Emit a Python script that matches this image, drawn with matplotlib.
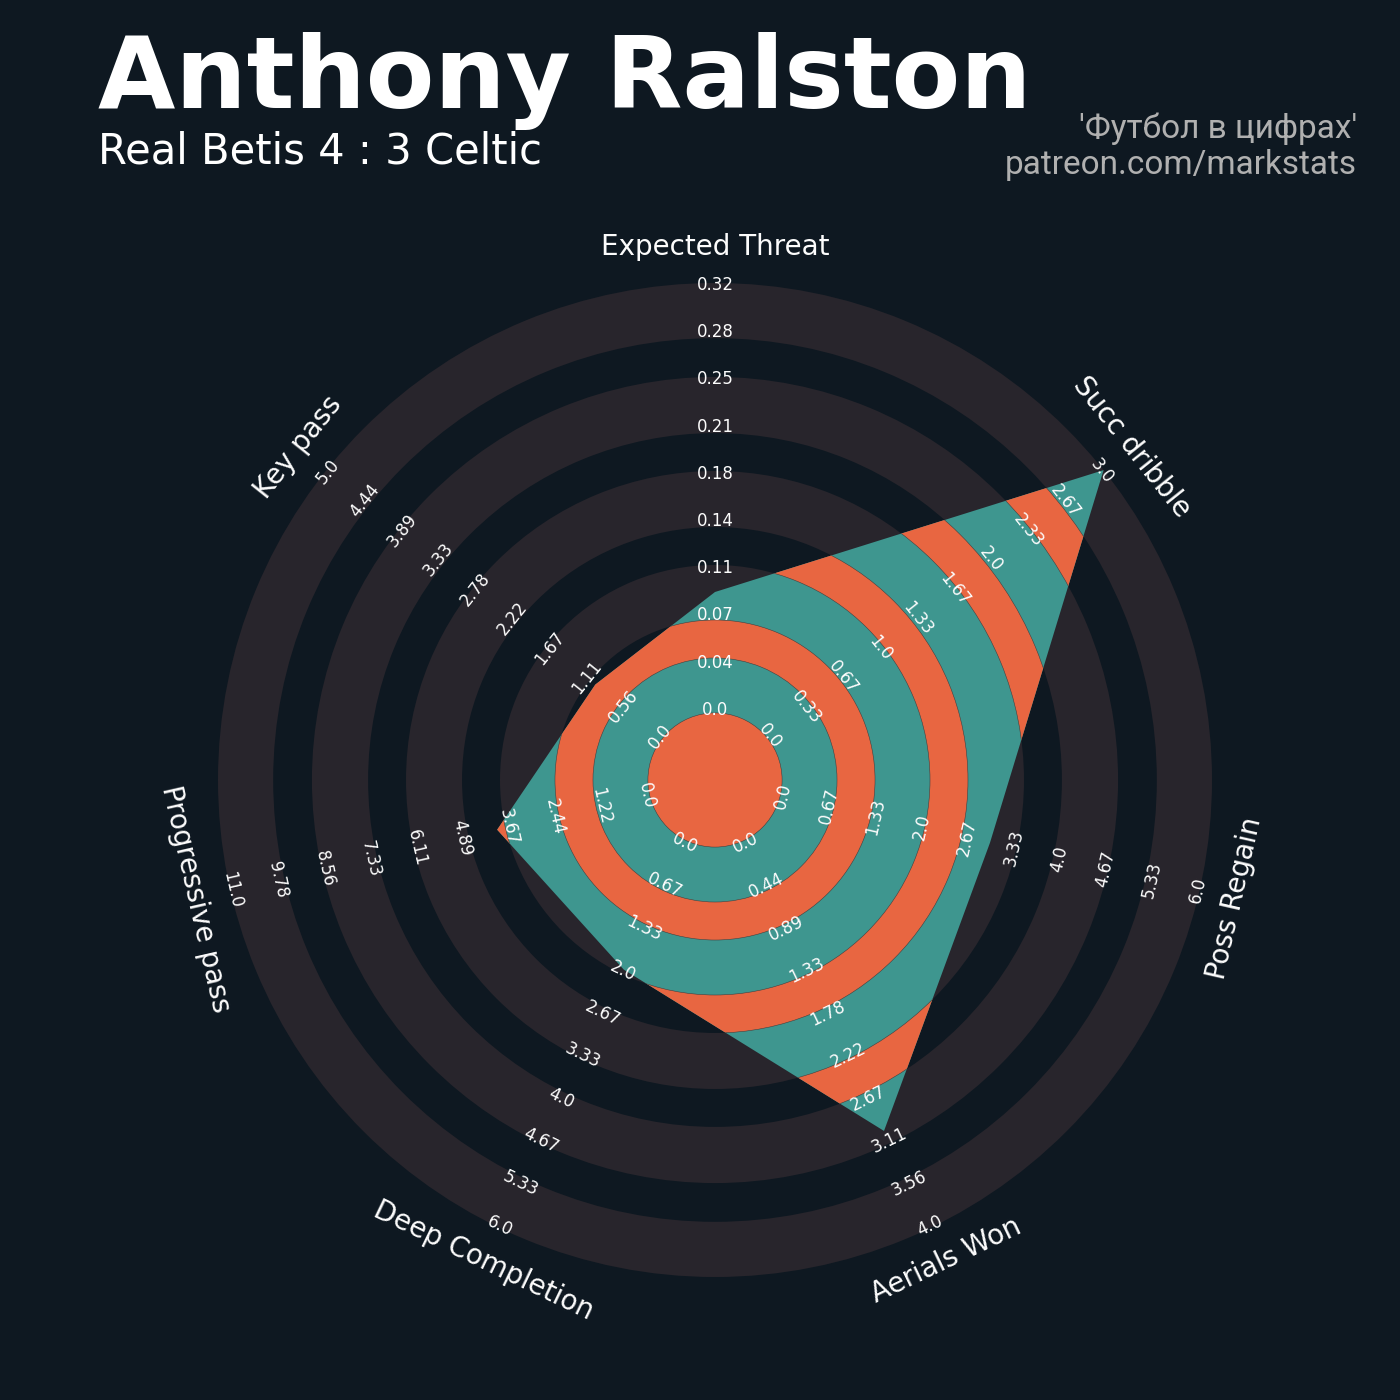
import matplotlib.pyplot as plt
from matplotlib.patches import Polygon, Wedge, Circle
import numpy as np

# dados do radar
parametros = ['Expected Threat', 'Succ dribble', 'Poss Regain', 'Aerials Won',
              'Deep Completion', 'Progressive pass', 'Key pass']
minimos = [0.0, 0.0, 0.0, 0.0, 0.0, 0.0, 0.0]
maximos = [0.32, 3.0, 6.0, 4.0, 6.0, 11.0, 5.0]
valores = [0.09, 3.0, 3.0, 3.0, 2.0, 4.0, 1.0]

titulo = 'Anthony Ralston'
subtitulo = 'Real Betis 4 : 3 Celtic'
credito = ["'Футбол в цифрах'", 'patreon.com/markstats']

COR_FUNDO = '#0e1821'
COR_ANEL = '#28252c'
COR_RADAR = '#3e968f'
COR_ANEL_RADAR = '#e86641'

# geometria (raio externo = 1)
CENTRO = 0.135
aneis_int = [0.135, 0.322, 0.509, 0.698, 0.889]
aneis_ext = [0.2455, 0.4326, 0.6217, 0.811, 1.0]
N_ROTULOS = 10


def raio(v, lo, hi):
    return CENTRO + (v - lo) / (hi - lo) * (1 - CENTRO)


def rotacao(ang_graus):
    rot = ang_graus - 90
    while rot <= -90:
        rot += 180
    while rot > 90:
        rot -= 180
    return rot


fig = plt.figure(figsize=(14, 14), dpi=100)
fig.patch.set_facecolor(COR_FUNDO)
ax = fig.add_axes([0, 0, 1, 1])
ax.set_facecolor(COR_FUNDO)
ax.set_xlim(-715 / 497, 685 / 497)
ax.set_ylim(-620 / 497, 780 / 497)
ax.set_aspect('equal')
ax.axis('off')

# aneis de fundo
for a, b in zip(aneis_int, aneis_ext):
    ax.add_patch(Wedge((0, 0), b, 0, 360, width=b - a, fc=COR_ANEL, ec='none', zorder=1))

n = len(parametros)
angulos = 90 - np.arange(n) * 360 / n
ang_rad = np.deg2rad(angulos)

r = np.array([raio(v, lo, hi) for v, lo, hi in zip(valores, minimos, maximos)])
pontos = np.column_stack([r * np.cos(ang_rad), r * np.sin(ang_rad)])
radar = Polygon(pontos, closed=True, fc=COR_RADAR, ec='none', zorder=2)
ax.add_patch(radar)

# partes laranja dentro do radar
centro = Circle((0, 0), CENTRO, fc=COR_ANEL_RADAR, ec='#404040', lw=0.4, zorder=3)
ax.add_patch(centro)
centro.set_clip_path(radar)
for a, b in zip(aneis_ext[:-1], aneis_int[1:]):
    w = Wedge((0, 0), b, 0, 360, width=b - a, fc=COR_ANEL_RADAR, ec='#404040', lw=0.4, zorder=3)
    ax.add_patch(w)
    w.set_clip_path(radar)

# rotulos dos parametros
for nome, ang in zip(parametros, angulos):
    t = np.deg2rad(ang)
    ax.text(1.073 * np.cos(t), 1.073 * np.sin(t), nome, fontsize=20, color='#fcfcfc',
            ha='center', va='center', rotation=rotacao(ang), rotation_mode='anchor', zorder=5)

# rotulos das escalas
raios_rot = np.linspace(0.141, 0.996, N_ROTULOS)
for lo, hi, ang in zip(minimos, maximos, angulos):
    t = np.deg2rad(ang)
    for k, rr in enumerate(raios_rot):
        v = lo + k * (hi - lo) / (N_ROTULOS - 1)
        ax.text(rr * np.cos(t), rr * np.sin(t), str(round(v, 2)), fontsize=12, color='#fcfcfc',
                ha='center', va='center', rotation=rotacao(ang), rotation_mode='anchor', zorder=6)

# textos
fig.text(98 / 1400, 1 - 108 / 1400, titulo, fontsize=72, fontweight='bold', color='white',
         ha='left', va='baseline')
fig.text(98 / 1400, 1 - 164 / 1400, subtitulo, fontsize=30, color='white',
         ha='left', va='baseline')
fig.text(1357 / 1400, 1 - 138 / 1400, credito[0], fontsize=24, color='#b0b0b0',
         family='Roboto', ha='right', va='baseline')
fig.text(1357 / 1400, 1 - 174 / 1400, credito[1], fontsize=24, color='#b0b0b0',
         family='Roboto', ha='right', va='baseline')

fig.savefig('out.png', dpi=100, facecolor=COR_FUNDO)
